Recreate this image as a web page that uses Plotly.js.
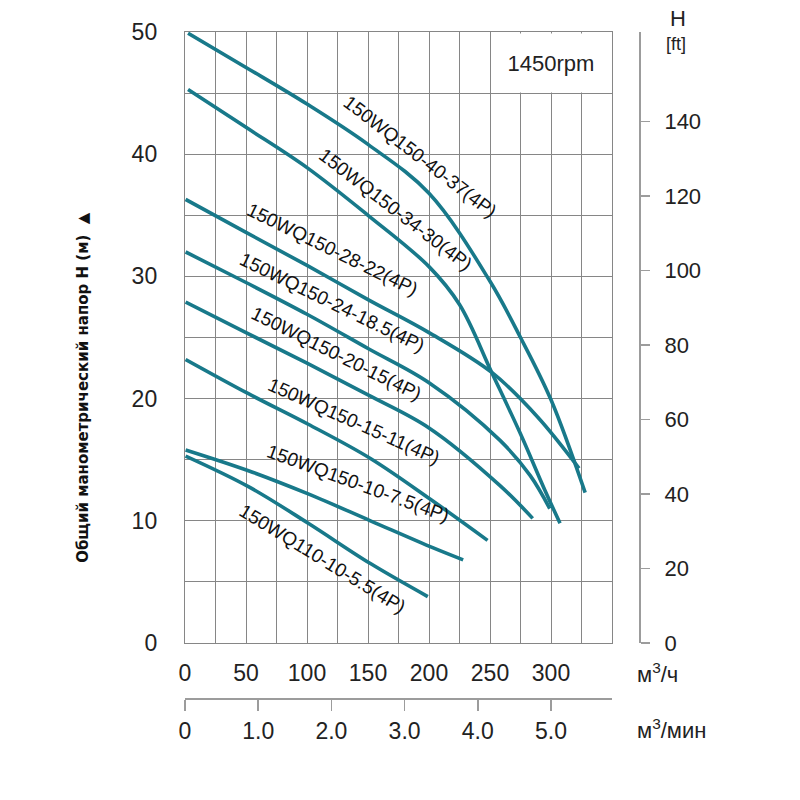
<!DOCTYPE html>
<html>
<head>
<meta charset="utf-8">
<script src="https://cdn.plot.ly/plotly-3.0.1.min.js"></script>
<style>html,body{margin:0;padding:0;background:#fff;}#chart{width:800px;height:800px;}</style>
</head>
<body>
<div id="chart"></div>
<script>
// Flow Q (m³/h) and head H (m) for each pump curve
var qA = [2.5, 50, 100, 150, 200, 250, 275, 300, 328];
var hA = [49.9, 47.1, 44.1, 40.8, 36.8, 29.6, 25.0, 19.9, 12.3];
var qB = [2.5, 50, 100, 150, 200, 225, 251.6, 274.6, 295, 307.4];
var hB = [45.3, 42.2, 38.9, 35.0, 30.8, 27.7, 22.1, 17.2, 12.5, 9.8];
var qC = [0.5, 50, 100, 150, 200, 252, 289, 323];
var hC = [36.3, 33.6, 30.9, 28.1, 25.4, 22.1, 18.5, 14.3];
var qD = [0.5, 50, 100, 150, 200, 258, 283, 299];
var hD = [32.0, 29.5, 26.9, 24.1, 21.3, 16.6, 13.7, 11.0];
var qE = [0.5, 50, 100, 150, 200, 258, 285];
var hE = [27.9, 25.4, 22.9, 20.3, 17.6, 12.9, 10.2];
var qF = [0.5, 52, 101, 152, 202, 248];
var hF = [23.2, 20.4, 17.9, 15.1, 11.7, 8.4];
var qG = [0.5, 52, 101, 152, 203, 228];
var hG = [15.8, 14.1, 12.2, 10.0, 7.8, 6.8];
var qH = [0.5, 52, 101, 152, 199];
var hH = [15.3, 12.8, 9.8, 6.5, 3.8];

var curveNames = ["150WQ150-40-37(4P)", "150WQ150-34-30(4P)", "150WQ150-28-22(4P)",
  "150WQ150-24-18.5(4P)", "150WQ150-20-15(4P)", "150WQ150-15-11(4P)",
  "150WQ150-10-7.5(4P)", "150WQ110-10-5.5(4P)"];
var labelQ = [192.7, 172.5, 120.9, 120.9, 124.0, 138.9, 142.2, 112.3];
var labelH = [39.85, 35.45, 32.2, 27.9, 23.7, 18.1, 13.05, 6.9];
var labelAngle = [37.5, 37.5, 26, 26, 26.5, 24, 20, 31.5];

var qTicks = [0, 50, 100, 150, 200, 250, 300];
var hTicks = [0, 10, 20, 30, 40, 50];
var ftTicks = [0, 20, 40, 60, 80, 100, 120, 140];
var minTicks = [0, 1, 2, 3, 4, 5];
var minTickText = ["0", "1.0", "2.0", "3.0", "4.0", "5.0"];

var M_TO_FT = 3.28084;
var Q_MAX = 350, H_MAX = 50;

var teal = "#18798a";
var grid = "#868686";
var axisGrey = "#9c9c9c";
var qs = [qA, qB, qC, qD, qE, qF, qG, qH];
var hs = [hA, hB, hC, hD, hE, hF, hG, hH];

var data = [];
for (var i = 0; i < qs.length; i++) {
  data.push({
    x: qs[i], y: hs[i], type: "scatter", mode: "lines",
    line: {color: teal, width: 3.6, shape: "spline", smoothing: 1},
    name: curveNames[i], showlegend: false, hoverinfo: "skip"
  });
}
// invisible anchors so the secondary axes are drawn
data.push({x: [0], y: [0], xaxis: "x", yaxis: "y2", mode: "markers",
  marker: {opacity: 0}, showlegend: false, hoverinfo: "skip"});
data.push({x: [0], y: [0], xaxis: "x2", yaxis: "y", mode: "markers",
  marker: {opacity: 0}, showlegend: false, hoverinfo: "skip"});

var FONT = "Liberation Sans, Arial, sans-serif";
var tickFont = {family: FONT, size: 23, color: "#222"};

var annotations = [];
for (var k = 0; k < curveNames.length; k++) {
  annotations.push({
    x: labelQ[k], y: labelH[k], xref: "x", yref: "y",
    text: curveNames[k], showarrow: false, textangle: labelAngle[k],
    font: {family: FONT, size: 19, color: "#111"}
  });
}
annotations.push({x: 300, y: 47.5, xref: "x", yref: "y", text: "1450rpm", showarrow: false,
  bgcolor: "#ffffff", width: 118, height: 58, borderpad: 0,
  font: {family: FONT, size: 22, color: "#222"}});
annotations.push({x: 1.105, y: 1.04, xref: "paper", yref: "paper", text: "H", showarrow: false,
  font: {family: FONT, size: 22, color: "#222"}});
annotations.push({x: 1.105, y: 1.0, xref: "paper", yref: "paper", text: "[ft]", showarrow: false,
  font: {family: FONT, size: 18, color: "#222"}});
annotations.push({x: 0.988, y: 0.0916, xref: "paper", yref: "paper", xanchor: "left", yanchor: "top",
  text: "м<sup>3</sup>/ч", showarrow: false,
  font: {family: FONT, size: 22, color: "#222"}});
annotations.push({x: 0.988, y: 0.0102, xref: "paper", yref: "paper", xanchor: "left", yanchor: "top",
  text: "м<sup>3</sup>/мин", showarrow: false,
  font: {family: FONT, size: 22, color: "#222"}});
annotations.push({x: -0.248, y: 0.483, xref: "paper", yref: "paper", textangle: -90,
  text: "Общий манометрический напор H (м)  ▲", showarrow: false,
  font: {family: "DejaVu Sans, sans-serif", size: 15, color: "#111", weight: "bold"}});

var layout = {
  width: 800, height: 800,
  margin: {l: 185, r: 160, t: 32, b: 80},
  paper_bgcolor: "#fff", plot_bgcolor: "#fff",
  showlegend: false,
  xaxis: {
    domain: [0, 427 / 455], range: [0, Q_MAX], tickvals: qTicks,
    showgrid: true, gridcolor: grid, gridwidth: 1,
    minor: {dtick: 25, showgrid: true, gridcolor: grid, gridwidth: 1},
    showline: true, mirror: true, linecolor: grid, linewidth: 1.2,
    ticks: "outside", ticklen: 9, tickcolor: "rgba(0,0,0,0)",
    zeroline: false, tickfont: tickFont, fixedrange: true
  },
  yaxis: {
    domain: [77 / 688, 1], range: [0, H_MAX], tickvals: hTicks,
    showgrid: true, gridcolor: grid, gridwidth: 1,
    minor: {dtick: 5, showgrid: true, gridcolor: grid, gridwidth: 1},
    showline: true, mirror: true, linecolor: grid, linewidth: 1.2,
    ticks: "outside", ticklen: 22, tickcolor: "rgba(0,0,0,0)",
    zeroline: false, tickfont: tickFont, fixedrange: true
  },
  yaxis2: {
    overlaying: "y", side: "right", anchor: "free", position: 1,
    range: [0, H_MAX * M_TO_FT], tickvals: ftTicks,
    showgrid: false, zeroline: false,
    showline: true, linecolor: axisGrey, linewidth: 2,
    ticks: "outside", ticklen: 9, tickwidth: 1.5, tickcolor: axisGrey,
    tickfont: {family: FONT, size: 22, color: "#222"},
    ticklabelstandoff: 10, fixedrange: true
  },
  xaxis2: {
    overlaying: "x", side: "bottom", anchor: "free", position: 21 / 688,
    range: [0, Q_MAX / 60], tickvals: minTicks, ticktext: minTickText,
    showgrid: false, zeroline: false,
    showline: true, linecolor: axisGrey, linewidth: 2,
    ticks: "outside", ticklen: 11, tickwidth: 1.5, tickcolor: axisGrey,
    tickfont: tickFont, fixedrange: true
  },
  annotations: annotations
};

Plotly.newPlot("chart", data, layout, {staticPlot: true});
</script>
</body>
</html>
